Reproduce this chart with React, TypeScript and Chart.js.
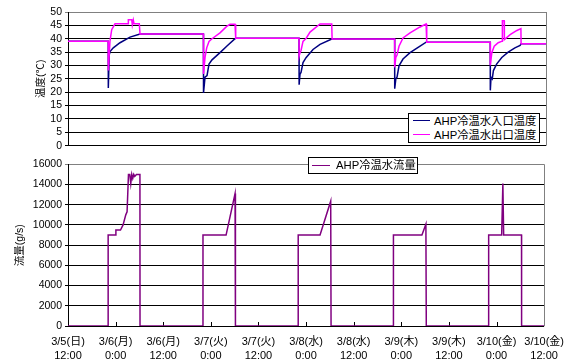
import React, { useEffect, useRef } from "react";
import { Chart, registerables } from "chart.js";

Chart.register(...registerables);

const FONT = "'Liberation Sans', 'Noto Sans CJK JP', sans-serif";

// x values: hours since 3/5 0:00
const X_MIN = 12;
const X_MAX = 132;
const X_STEP = 12;

const tickDates = ["3/5(日)", "3/6(月)", "3/6(月)", "3/7(火)", "3/7(火)", "3/8(水)", "3/8(水)", "3/9(木)", "3/9(木)", "3/10(金)", "3/10(金)"];
const tickTimes = ["12:00", "0:00", "12:00", "0:00", "12:00", "0:00", "12:00", "0:00", "12:00", "0:00", "12:00"];

const inletLabel = "AHP冷温水入口温度";
const outletLabel = "AHP冷温水出口温度";
const flowLabel = "AHP冷温水流量";
const tempTitle = "温度(℃)";
const flowTitle = "流量(g/s)";

const inletHours = [
  12, 22.1, 22.12, 22.35, 22.6, 23.37, 25.06, 27.57, 30.08,
  46.0, 46.02, 46.4, 46.9, 47.4, 48.15, 50.16, 51.84, 53.93, 54.18,
  70.0, 70.02, 70.25, 70.5, 71.0, 71.8, 73.51, 75.27, 78.21, 78.3,
  94.0, 94.02, 94.3, 94.6, 95.1, 96.1, 97.87, 100.38, 101.9, 102.06,
  118.0, 118.02, 118.2, 118.5, 118.8, 119.6, 120.9, 122.5, 124.2, 125.5, 125.75,
  132,
];
const inletTemp = [
  39.1, 39.1, 21.6, 34.0, 35.3, 36.6, 38.5, 40.6, 41.8,
  41.8, 19.7, 25.6, 26.2, 30.5, 32.1, 34.8, 37.2, 40.0, 40.2,
  40.2, 22.8, 26.8, 27.4, 31.1, 33.0, 36.0, 37.9, 39.9, 39.9,
  39.9, 21.3, 25.0, 25.6, 29.9, 32.4, 34.8, 37.2, 38.7, 38.7,
  38.7, 20.7, 25.6, 25.0, 28.1, 30.5, 33.0, 35.0, 36.6, 37.5, 38.1,
  38.1,
];

const outletHours = [
  12, 22.1, 22.12, 22.54, 22.97, 23.8, 27.14, 27.15, 28.0, 28.14, 28.39, 28.57, 29.9, 30.08,
  46.0, 46.02, 46.4, 46.82, 47.4, 48.15, 50.16, 51.84, 52.67, 53.93, 54.1,
  70.0, 70.02, 70.25, 70.5, 71.0, 71.8, 72.76, 75.27, 78.21, 78.3,
  94.0, 94.02, 94.3, 94.6, 95.1, 96.1, 97.87, 100.38, 101.9, 102.06,
  118.0, 118.02, 118.4, 119.0, 120.0, 121.0, 121.05, 121.5, 121.55, 123.0, 124.7, 125.7, 125.75,
  132,
];
const outletTemp = [
  39.1, 39.1, 28.1, 39.1, 43.4, 45.6, 45.6, 47.1, 47.1, 45.2, 47.0, 45.6, 45.6, 41.8,
  41.8, 26.8, 33.0, 36.6, 39.0, 40.0, 42.2, 44.6, 45.4, 45.4, 40.2,
  40.2, 33.5, 34.8, 35.6, 39.0, 40.2, 42.5, 45.5, 45.5, 39.9,
  39.9, 29.3, 33.0, 33.9, 37.2, 40.3, 42.2, 44.4, 45.5, 38.7,
  38.7, 30.1, 34.8, 37.2, 38.5, 39.1, 46.7, 46.7, 39.7, 41.5, 43.1, 43.8, 38.1,
  38.1,
];

const flowHours = [
  12, 22.1, 22.12, 24.05, 24.07, 25.23, 25.88, 26.56, 26.89, 27.24, 27.57, 27.82, 28.07, 28.32, 28.57, 28.82, 29.25, 30.13, 30.15,
  46.0, 46.02, 51.84, 54.1, 54.2,
  70.0, 70.02, 75.52, 78.21, 78.3,
  94.0, 94.02, 101.2, 102.2, 102.3,
  118.0, 118.02, 121.3, 121.6, 121.8, 126.3, 126.32,
  132,
];
const flowValues = [
  0, 0, 9000, 9000, 9500, 9500, 10000, 11000, 11300, 15000, 15000, 14100, 15000, 14600, 15000, 14800, 15000, 15000, 0,
  0, 9000, 9000, 13100, 0,
  0, 9000, 9000, 12350, 0,
  0, 9000, 9000, 10070, 0,
  0, 9000, 9000, 14100, 9000, 9000, 0,
  0,
];

const toPoints = (xs: number[], ys: number[]) => xs.map((x, i) => ({ x, y: ys[i] }));

const framePlugin = (insideTicks: boolean, title: string, titleX: number) => ({
  id: "frame",
  beforeDatasetsDraw(chart: any) {
    const { ctx, chartArea } = chart;
    ctx.save();
    ctx.strokeStyle = "#808080";
    ctx.lineWidth = 1;
    const rx = Math.round(chartArea.right) + 0.5;
    ctx.beginPath();
    ctx.moveTo(rx, chartArea.top);
    ctx.lineTo(rx, chartArea.bottom);
    ctx.stroke();
    if (insideTicks) {
      const xs = chart.scales.x;
      ctx.strokeStyle = "#000";
      for (let v = X_MIN + X_STEP; v < X_MAX; v += X_STEP) {
        const px = Math.round(xs.getPixelForValue(v)) + 0.5;
        ctx.beginPath();
        ctx.moveTo(px, chartArea.bottom);
        ctx.lineTo(px, chartArea.bottom - 4);
        ctx.stroke();
      }
    }
    ctx.restore();
  },
  afterDraw(chart: any) {
    const { ctx, chartArea } = chart;
    ctx.save();
    ctx.font = `10.5px ${FONT}`;
    ctx.fillStyle = "#000";
    ctx.textAlign = "center";
    ctx.textBaseline = "middle";
    ctx.translate(titleX, (chartArea.top + chartArea.bottom) / 2);
    ctx.rotate(-Math.PI / 2);
    ctx.fillText(title, 0, 0);
    ctx.restore();
  },
});

const yAxis = (max: number, step: number) => ({
  min: 0,
  max,
  afterFit: (s: any) => {
    s.width = 68;
  },
  ticks: {
    stepSize: step,
    autoSkip: false,
    color: "#000",
    padding: 3,
    font: { family: FONT, size: 10.5 },
    callback: (v: any) => String(v),
  },
  grid: {
    color: (c: any) => (c.tick && c.tick.value === max ? "#808080" : "#000"),
    tickLength: 3,
    lineWidth: 1,
  },
  border: { display: true, color: "#000", width: 1 },
});

export default function App() {
  const topRef = useRef<HTMLCanvasElement>(null);
  const botRef = useRef<HTMLCanvasElement>(null);

  useEffect(() => {
    const common = {
      responsive: false,
      animation: false as const,
      plugins: { legend: { display: false }, tooltip: { enabled: false } },
      elements: { point: { radius: 0 }, line: { tension: 0 } },
    };
    const top = new Chart(topRef.current!, {
      type: "line",
      data: {
        datasets: [
          {
            label: outletLabel,
            data: toPoints(outletHours, outletTemp),
            borderColor: "#FF00FF",
            borderWidth: 1.5,
            order: 0,
          },
          {
            label: inletLabel,
            data: toPoints(inletHours, inletTemp),
            borderColor: "#000080",
            borderWidth: 1.5,
            order: 1,
          },
        ],
      },
      options: {
        ...common,
        layout: { padding: { top: 12, right: 27, bottom: 7, left: 0 } },
        scales: {
          x: { type: "linear", min: X_MIN, max: X_MAX, display: false },
          y: yAxis(50, 5),
        },
      },
      plugins: [framePlugin(false, tempTitle, 41)],
    } as any);

    const bot = new Chart(botRef.current!, {
      type: "line",
      data: {
        datasets: [
          {
            label: flowLabel,
            data: toPoints(flowHours, flowValues),
            borderColor: "#800080",
            borderWidth: 1.5,
          },
        ],
      },
      options: {
        ...common,
        layout: { padding: { top: 9, right: 27, bottom: 0, left: 0 } },
        scales: {
          x: {
            type: "linear",
            min: X_MIN,
            max: X_MAX,
            afterFit: (s: any) => {
              s.height = 36;
            },
            grid: { display: false, drawTicks: false },
            border: { display: false },
            ticks: {
              stepSize: X_STEP,
              autoSkip: false,
              maxRotation: 0,
              minRotation: 0,
              padding: 9,
              color: "#000",
              font: { family: FONT, size: 11, lineHeight: 1.25 },
              callback: (v: any) => {
                const i = Math.round((Number(v) - X_MIN) / X_STEP);
                return [tickDates[i], tickTimes[i]];
              },
            },
          },
          y: yAxis(16000, 2000),
        },
      },
      plugins: [framePlugin(true, flowTitle, 20)],
    } as any);

    return () => {
      top.destroy();
      bot.destroy();
    };
  }, []);

  const lineSample = (color: string, left: number, width: number) => (
    <span
      style={{
        position: "absolute",
        left,
        top: "50%",
        width,
        height: 0,
        borderTop: `1.5px solid ${color}`,
        marginTop: -1,
      }}
    />
  );

  return (
    <div
      style={{
        position: "fixed",
        left: 0,
        top: 0,
        width: 573,
        height: 362,
        background: "#fff",
        fontFamily: FONT,
        color: "#000",
        overflow: "hidden",
      }}
    >
      <canvas ref={topRef} width={573} height={155} style={{ position: "absolute", left: 0, top: 0 }} />
      <canvas ref={botRef} width={573} height={207} style={{ position: "absolute", left: 0, top: 155 }} />
      <div
        style={{
          position: "absolute",
          left: 408,
          top: 113,
          width: 130,
          height: 28,
          border: "1px solid #000",
          background: "#fff",
          fontSize: 11.3,
        }}
      >
        <div style={{ position: "relative", height: 14, lineHeight: "14px" }}>
          {lineSample("#000080", 4, 17)}
          <span style={{ position: "absolute", left: 25, top: 0, whiteSpace: "nowrap" }}>{inletLabel}</span>
        </div>
        <div style={{ position: "relative", height: 14, lineHeight: "14px" }}>
          {lineSample("#FF00FF", 4, 17)}
          <span style={{ position: "absolute", left: 25, top: 0, whiteSpace: "nowrap" }}>{outletLabel}</span>
        </div>
      </div>
      <div
        style={{
          position: "absolute",
          left: 308,
          top: 157,
          width: 108,
          height: 15,
          border: "1px solid #000",
          background: "#fff",
          fontSize: 11.3,
        }}
      >
        <div style={{ position: "relative", height: 15, lineHeight: "15px" }}>
          {lineSample("#800080", 3, 18)}
          <span style={{ position: "absolute", left: 27, top: 0, whiteSpace: "nowrap" }}>{flowLabel}</span>
        </div>
      </div>
    </div>
  );
}
